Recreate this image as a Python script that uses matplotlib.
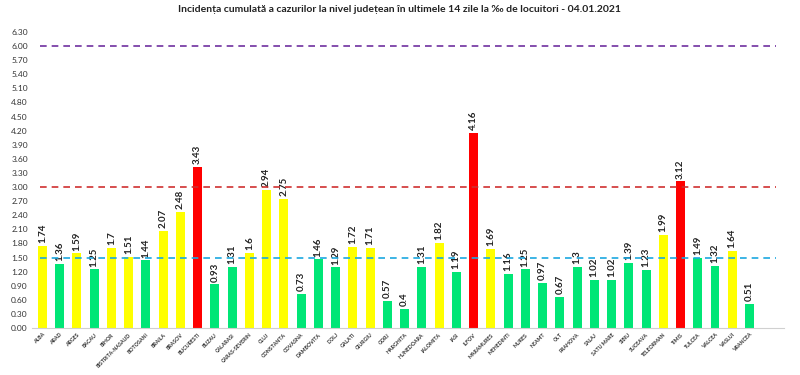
import matplotlib
matplotlib.use('Agg')
import matplotlib.pyplot as plt

plt.rcParams['font.family'] = ['Lato', 'DejaVu Sans']

# judete si incidenta la 14 zile (la mie locuitori)
judete = ['ALBA', 'ARAD', 'ARGES', 'BACAU', 'BIHOR', 'BISTRITA-NASAUD', 'BOTOSANI',
          'BRAILA', 'BRASOV', 'BUCURESTI', 'BUZAU', 'CALARASI', 'CARAS-SEVERIN', 'CLUJ',
          'CONSTANTA', 'COVASNA', 'DAMBOVITA', 'DOLJ', 'GALATI', 'GIURGIU', 'GORJ',
          'HARGHITA', 'HUNEDOARA', 'IALOMITA', 'IASI', 'ILFOV', 'MARAMURES', 'MEHEDINTI',
          'MURES', 'NEAMT', 'OLT', 'PRAHOVA', 'SALAJ', 'SATU MARE', 'SIBIU', 'SUCEAVA',
          'TELEORMAN', 'TIMIS', 'TULCEA', 'VALCEA', 'VASLUI', 'VRANCEA']
incidenta = [1.74, 1.36, 1.59, 1.25, 1.7, 1.51, 1.44, 2.07, 2.48, 3.43, 0.93, 1.31,
             1.6, 2.94, 2.75, 0.73, 1.46, 1.29, 1.72, 1.71, 0.57, 0.4, 1.31, 1.82,
             1.19, 4.16, 1.69, 1.16, 1.25, 0.97, 0.67, 1.3, 1.02, 1.02, 1.39, 1.23,
             1.99, 3.12, 1.49, 1.32, 1.64, 0.51]
praguri = [1.5, 3.0, 6.0]
culori_prag = ['#1BA8E0', '#D03030', '#7030A0']

# culoare dupa prag
culori = []
for v in incidenta:
    if v > 3:
        culori.append('#FF0000')
    elif v >= 1.5:
        culori.append('#FFFF00')
    else:
        culori.append('#00E676')

fig = plt.figure(figsize=(8, 3.75), dpi=100)
ax = fig.add_axes([0.04, 0.125, 0.94, 0.79])

x = range(len(judete))
ax.bar(x, incidenta, width=0.52, color=culori, zorder=2)

for i, v in enumerate(incidenta):
    ax.text(i, v + 0.06, str(v), rotation=90, ha='center', va='bottom',
            fontsize=7, fontweight='bold', color='#222222', zorder=3)

for p, c in zip(praguri, culori_prag):
    ax.axhline(p, xmin=0.01, xmax=0.99, color=c, linestyle=(0, (4, 3)),
               linewidth=1.2, zorder=4)

ax.set_xlim(-0.6, 43)
ax.set_ylim(0, 6.3)
yt = [i * 0.3 for i in range(22)]
ax.set_yticks(yt)
ax.set_yticklabels(['%.2f' % t for t in yt], fontsize=6, color='#333333')
ax.set_xticks(list(x))
ax.set_xticklabels(judete, rotation=45, ha='right', rotation_mode='anchor',
                   fontsize=3.8, fontweight='bold', color='#333333')
ax.tick_params(axis='both', length=0, pad=3)

for s in ['top', 'right', 'left']:
    ax.spines[s].set_visible(False)
ax.spines['bottom'].set_color('#D0D0D0')

fig.text(0.5, 0.975, 'Incidența cumulată a cazurilor la nivel județean în ultimele 14 zile la ‰ de locuitori - 04.01.2021',
         ha='center', va='center', fontsize=7.5, fontweight='bold', color='#222222')

fig.savefig('out.png', dpi=100)
